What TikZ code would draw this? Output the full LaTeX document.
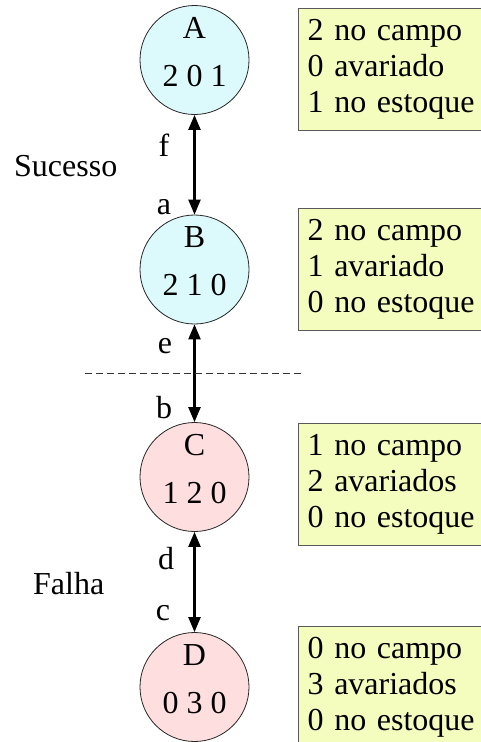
\documentclass[tikz,border=0pt]{standalone}
\usepackage{fontspec}
\setmainfont{Liberation Serif}
\usetikzlibrary{arrows.meta}

\definecolor{okfill}{RGB}{220,250,252}
\definecolor{failfill}{RGB}{255,222,224}
\definecolor{notefill}{RGB}{244,252,190}
\definecolor{noteedge}{RGB}{90,90,90}

\begin{document}
\begin{tikzpicture}[x=1pt,y=-1pt,
  every node/.style={font=\fontsize{32}{36}\selectfont, inner sep=0pt},
  state/.style={circle, draw=black!85, line width=0.8pt, minimum size=109pt,
    align=center, font=\fontsize{32}{48}\selectfont},
  okstate/.style={state, fill=okfill},
  failstate/.style={state, fill=failfill},
  note/.style={draw=noteedge, line width=1.2pt, fill=notefill, anchor=north west,
    text width=175pt, align=left, inner xsep=9pt, minimum height=122pt},
  conn/.style={line width=2.2pt, {Triangle[width=12pt,length=15pt]}-{Triangle[width=12pt,length=15pt]}},
  edgelbl/.style={anchor=base},
  divider/.style={line width=0.8pt, black!80, dash pattern=on 7pt off 4pt}]

\useasboundingbox (0,0) rectangle (480,742);

% states
\node[okstate]   (A) at (194.5,60)    {A\\2 0 1\rule[-16pt]{0pt}{0pt}};
\node[okstate]   (B) at (194.5,269.5) {B\\2 1 0\rule[-16pt]{0pt}{0pt}};
\node[failstate] (C) at (194.5,477)   {C\\1 2 0\rule[-16pt]{0pt}{0pt}};
\node[failstate] (D) at (194.5,687)   {D\\0 3 0\rule[-16pt]{0pt}{0pt}};

% descriptions of each state
\node[note] (nA) at (298,8)   {2 no campo\\0 avariado\\1 no estoque};
\node[note] (nB) at (298,208) {2 no campo\\1 avariado\\0 no estoque};
\node[note] (nC) at (298,423) {1 no campo\\2 avariados\\0 no estoque};
\node[note] (nD) at (298,626) {0 no campo\\3 avariados\\0 no estoque};

% transitions
\draw[conn] (A.south) -- (B.north);
\draw[conn] (B.south) -- (C.north);
\draw[conn] (C.south) -- (D.north);

% transition labels
\node[edgelbl] (lf) at (164,156) {f};
\node[edgelbl] (la) at (164,214) {a};
\node[edgelbl] (le) at (165,353) {e};
\node[edgelbl] (lb) at (164,418) {b};
\node[edgelbl] (ld) at (166,569) {d};
\node[edgelbl] (lc) at (163,620) {c};

% regions
\node[anchor=base west] (succ) at (14,176) {Sucesso};
\node[anchor=base west] (fail) at (33,594) {Falha};

\coordinate (dl) at (85,373);
\coordinate (dr) at (302,373);
\draw[divider] (dl) -- (dr);
\end{tikzpicture}
\end{document}
